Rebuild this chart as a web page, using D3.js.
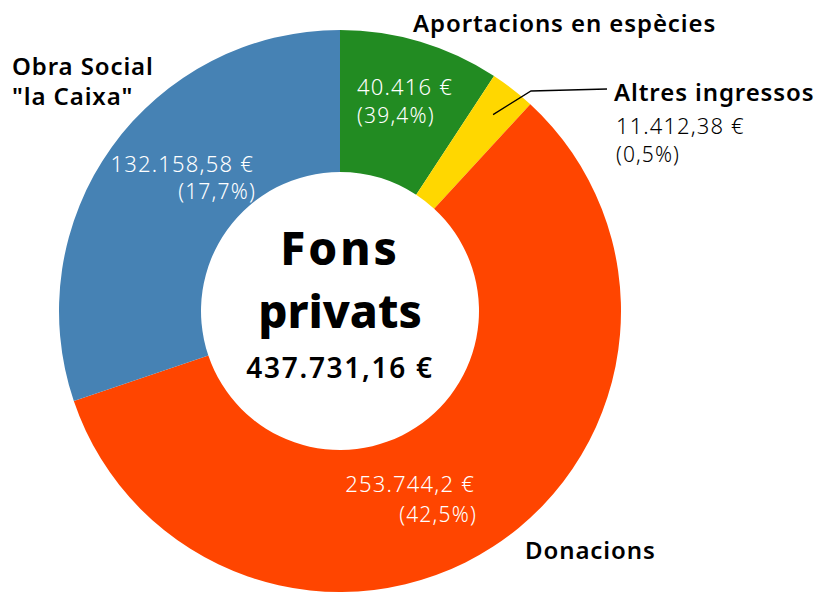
<!DOCTYPE html>
<html>
<head>
<meta charset="utf-8">
<script src="https://cdn.jsdelivr.net/npm/d3@7"></script>
<style>
  html, body { margin: 0; padding: 0; background: #fff; }
  svg text { font-family: "Noto Sans", "Lato", sans-serif; }
</style>
</head>
<body>
<script>
// data
const categories = ['Aportacions en espècies', 'Altres ingressos', 'Donacions', 'Obra Social "la Caixa"'];
const values = [40416, 11412.38, 253744.2, 132158.58];
const valueLabels = ['40.416 €', '11.412,38 €', '253.744,2 €', '132.158,58 €'];
const pctLabels = ['(39,4%)', '(0,5%)', '(42,5%)', '(17,7%)'];
const colors = ['#228b22', '#ffd700', '#ff4500', '#4682b4'];
const totalLabel = '437.731,16 €';

const width = 815, height = 592;
const cx = 340, cy = 311;
const outerR = 281, innerR = 139;

const svg = d3.select('body').append('svg')
    .attr('width', width)
    .attr('height', height);

const g = svg.append('g').attr('transform', `translate(${cx},${cy})`);

const pie = d3.pie().sort(null).value(d => d)(values);
const arc = d3.arc().innerRadius(innerR).outerRadius(outerR);

g.selectAll('path.slice')
    .data(pie)
    .enter()
    .append('path')
    .attr('class', 'slice')
    .attr('d', arc)
    .attr('fill', (d, i) => colors[i]);

// value labels inside slices (offsets from centre)
const inside = [
    { i: 0, x: 17, y: -216, dy: 28, anchor: 'start' },
    { i: 2, x: 135, y: 181, dy: 30, anchor: 'end' },
    { i: 3, x: -86, y: -139, dy: 27, anchor: 'end' }
];
inside.forEach(p => {
    const t = g.append('text')
        .attr('x', p.x).attr('y', p.y)
        .attr('text-anchor', p.anchor)
        .attr('fill', '#fff')
        .attr('font-size', 22)
        .attr('font-weight', 300)
        .attr('letter-spacing', 1.2);
    t.append('tspan').attr('x', p.x).text(valueLabels[p.i]);
    t.append('tspan').attr('x', p.x + (p.anchor === 'end' ? 2 : 0)).attr('dy', p.dy).attr('font-size', 21).text(pctLabels[p.i]);
});

// category names outside
const nameStyle = sel => sel.attr('font-size', 24).attr('font-weight', 600).attr('letter-spacing', 0.9);
svg.append('text').attr('x', 413).attr('y', 32).call(nameStyle).text(categories[0]);
const obra = svg.append('text').attr('x', 12).attr('y', 75).call(nameStyle);
obra.append('tspan').attr('x', 12).text('Obra Social');
obra.append('tspan').attr('x', 12).attr('dy', 30).text('"la Caixa"');
svg.append('text').attr('x', 525).attr('y', 559).call(nameStyle).text(categories[2]);

// small slice: leader line + label
const mid = (pie[1].startAngle + pie[1].endAngle) / 2;
const pStart = [Math.sin(mid) * (outerR - 32), -Math.cos(mid) * (outerR - 32)];
g.append('polyline')
    .attr('points', [pStart, [191, -220], [267, -222]].map(p => p.join(',')).join(' '))
    .attr('fill', 'none')
    .attr('stroke', '#000')
    .attr('stroke-width', 1.3);
svg.append('text').attr('x', 614).attr('y', 101).call(nameStyle).text(categories[1]);
svg.append('text').attr('x', 616).attr('y', 134).attr('font-size', 22).attr('font-weight', 300)
    .attr('letter-spacing', 1.1).text(valueLabels[1]);
svg.append('text').attr('x', 616).attr('y', 162).attr('font-size', 21).attr('font-weight', 300)
    .attr('letter-spacing', 1.1).text(pctLabels[1]);

// centre
g.append('text').attr('text-anchor', 'middle').attr('y', -46).attr('font-size', 46).attr('font-weight', 800)
    .attr('letter-spacing', 3).text('Fons');
g.append('text').attr('text-anchor', 'middle').attr('y', 17).attr('font-size', 46).attr('font-weight', 800)
    .text('privats');
g.append('text').attr('text-anchor', 'middle').attr('y', 67).attr('font-size', 28).attr('font-weight', 600)
    .attr('letter-spacing', 1.7).text(totalLabel);
</script>
</body>
</html>
